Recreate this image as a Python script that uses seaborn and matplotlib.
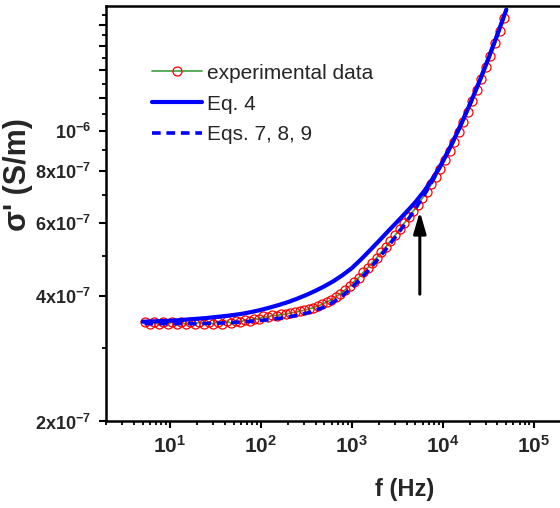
import numpy as np
import pandas as pd
import matplotlib
matplotlib.use("Agg")
import matplotlib.pyplot as plt
import seaborn as sns
from matplotlib.ticker import FixedLocator, LogLocator, NullFormatter

# --- data (sigma in units of 1e-7 S/m) ---
freq_exp = [5.31, 5.96, 6.68, 7.50, 8.41, 9.44, 10.59, 11.89, 13.34, 14.96, 16.79, 18.84,
            21.13, 23.71, 26.61, 29.85, 33.50, 37.58, 42.17, 47.32, 53.09, 59.57, 66.83,
            74.99, 84.14, 94.41, 105.9, 118.9, 133.4, 149.6, 167.9, 188.4, 211.3, 237.1,
            266.1, 298.5, 335.0, 375.8, 421.7, 473.2, 530.9, 595.7, 668.3, 749.9, 841.4,
            944.1, 1059, 1189, 1334, 1496, 1679, 1884, 2113, 2371, 2661, 2985, 3350, 3758,
            4217, 4732, 5309, 5957, 6683, 7499, 8414, 9441, 10590, 11890, 13340, 14960,
            16790, 18840, 21130, 23710, 26610, 29850, 33500, 37580, 42170, 47320]
sigma_exp = np.array([3.471, 3.424, 3.471, 3.424, 3.471, 3.424, 3.471, 3.424, 3.471, 3.424,
                      3.471, 3.424, 3.472, 3.426, 3.476, 3.431, 3.480, 3.436, 3.488, 3.444,
                      3.497, 3.462, 3.516, 3.490, 3.538, 3.521, 3.579, 3.564, 3.599, 3.593,
                      3.622, 3.620, 3.652, 3.660, 3.688, 3.701, 3.733, 3.753, 3.795, 3.826,
                      3.881, 3.925, 3.995, 4.057, 4.147, 4.228, 4.338, 4.439, 4.569, 4.688,
                      4.825, 4.959, 5.112, 5.263, 5.435, 5.606, 5.801, 5.992, 6.195, 6.413,
                      6.647, 6.886, 7.144, 7.441, 7.765, 8.118, 8.520, 8.956, 9.432, 9.953,
                      10.518, 11.133, 11.806, 12.544, 13.348, 14.227, 15.187, 16.253,
                      17.419, 18.677]) * 1e-7

freq_eq4 = [5.01, 6.31, 7.94, 10, 12.6, 15.8, 20.0, 25.1, 31.6, 39.8, 50.1, 63.1, 79.4,
            100, 126, 158, 200, 251, 316, 398, 501, 631, 794, 1000, 1259, 1585, 1995,
            2512, 3162, 3981, 5012, 6310, 7943, 10000, 12590, 15850, 19950, 25120, 31620,
            39810, 50120]
sigma_eq4 = np.array([3.476, 3.482, 3.489, 3.495, 3.506, 3.520, 3.534, 3.548, 3.567, 3.586,
                      3.608, 3.635, 3.670, 3.712, 3.761, 3.815, 3.878, 3.950, 4.032, 4.126,
                      4.232, 4.355, 4.503, 4.678, 4.907, 5.165, 5.443, 5.742, 6.051, 6.383,
                      6.746, 7.187, 7.745, 8.444, 9.312, 10.364, 11.615, 13.107, 14.895,
                      17.042, 19.612]) * 1e-7

freq_fit = [5.25, 6.31, 7.94, 10, 12.6, 15.8, 20.0, 25.1, 31.6, 39.8, 50.1, 63.1, 79.4,
            100, 126, 158, 200, 251, 316, 398, 501, 631, 794, 1000, 1259, 1585, 1995,
            2512, 3162, 3981, 5012, 6310, 7943, 10000, 12590, 15850, 19950, 25120, 31620,
            39810, 50120]
sigma_fit = np.array([3.439, 3.439, 3.439, 3.439, 3.439, 3.439, 3.439, 3.443, 3.447, 3.454,
                      3.463, 3.473, 3.486, 3.501, 3.520, 3.542, 3.569, 3.602, 3.643, 3.699,
                      3.775, 3.879, 4.018, 4.196, 4.414, 4.667, 4.952, 5.273, 5.635, 6.040,
                      6.502, 7.039, 7.674, 8.424, 9.312, 10.364, 11.615, 13.107, 14.895,
                      17.042, 19.612]) * 1e-7

x_ticks = [1e1, 1e2, 1e3, 1e4, 1e5]
x_labels = [r"$10^{1}$", r"$10^{2}$", r"$10^{3}$", r"$10^{4}$", r"$10^{5}$"]
y_ticks = [2e-7, 4e-7, 6e-7, 8e-7, 1e-6, 1.2e-6, 1.4e-6, 1.6e-6, 1.8e-6]
y_labels = [r"$2x10^{-7}$", r"$4x10^{-7}$", r"$6x10^{-7}$", r"$8x10^{-7}$", r"$10^{-6}$",
            "", "", "", ""]
y_minor = [3e-7, 5e-7, 7e-7, 9e-7, 1.1e-6, 1.3e-6, 1.5e-6, 1.7e-6, 1.9e-6]

sns.set_style("ticks")
plt.rcParams["font.family"] = ["Liberation Sans", "DejaVu Sans"]
plt.rcParams["mathtext.fontset"] = "custom"
plt.rcParams["mathtext.rm"] = "Liberation Sans"
plt.rcParams["mathtext.bf"] = "Liberation Sans:bold"
plt.rcParams["mathtext.default"] = "bf"

fig = plt.figure(figsize=(5.6, 5.08), dpi=100)
ax = fig.add_axes([0.19, 0.1703, 0.8118, 0.818])
ax.set_xscale("log")
ax.set_yscale("log")

df_exp = pd.DataFrame({"f": freq_exp, "sigma": sigma_exp})
sns.lineplot(data=df_exp, x="f", y="sigma", ax=ax, estimator=None, sort=False,
             color="#3ca03c", lw=1.2, marker="o", markersize=6.5, markerfacecolor="none",
             markeredgecolor="red", markeredgewidth=0.9, label="experimental data")
sns.lineplot(x=freq_eq4, y=sigma_eq4, ax=ax, estimator=None, sort=False,
             color="blue", lw=3, label="Eq. 4")
sns.lineplot(x=freq_fit, y=sigma_fit, ax=ax, estimator=None, sort=False,
             color="blue", lw=2.6, linestyle=(0, (2.4, 1.6)), label="Eqs. 7, 8, 9")

ax.set_xlim(2, 2e5)
ax.set_ylim(2e-7, 2e-6)

ax.set_xticks(x_ticks)
ax.set_xticklabels(x_labels)
ax.xaxis.set_minor_locator(LogLocator(base=10, subs=np.arange(2, 10)))
ax.xaxis.set_minor_formatter(NullFormatter())
ax.yaxis.set_major_locator(FixedLocator(y_ticks))
ax.set_yticklabels(y_labels)
ax.yaxis.set_minor_locator(FixedLocator(y_minor))
ax.yaxis.set_minor_formatter(NullFormatter())

ax.tick_params(which="major", direction="out", length=5, width=1.5, color="black")
ax.tick_params(which="minor", direction="out", length=3, width=1.3, color="black")
ax.tick_params(axis="x", which="major", labelsize=15, pad=5)
ax.tick_params(axis="y", which="major", labelsize=13, pad=6)

for side in ["left", "bottom", "top"]:
    ax.spines[side].set_linewidth(1.8)
    ax.spines[side].set_color("black")
ax.spines["right"].set_visible(False)

ax.set_xlabel("f (Hz)", fontsize=17, fontweight="bold")
ax.xaxis.set_label_coords(0.657, -0.135)
ax.set_ylabel("σ' (S/m)", fontsize=22, fontweight="bold")
ax.yaxis.set_label_coords(-0.162, 0.594)

ax.annotate("", xy=(5600, 6.4e-7), xytext=(5600, 4.05e-7),
            arrowprops=dict(arrowstyle="-|>,head_length=1.3,head_width=0.38",
                            mutation_scale=10, color="black", lw=2.2,
                            shrinkA=0, shrinkB=0))

ax.legend(loc="upper left", bbox_to_anchor=(0.100, 0.861), frameon=False, fontsize=15,
          handlelength=2.4, handletextpad=0.25, labelspacing=0.57, borderpad=0,
          borderaxespad=0)

fig.savefig("out.png", dpi=100)
